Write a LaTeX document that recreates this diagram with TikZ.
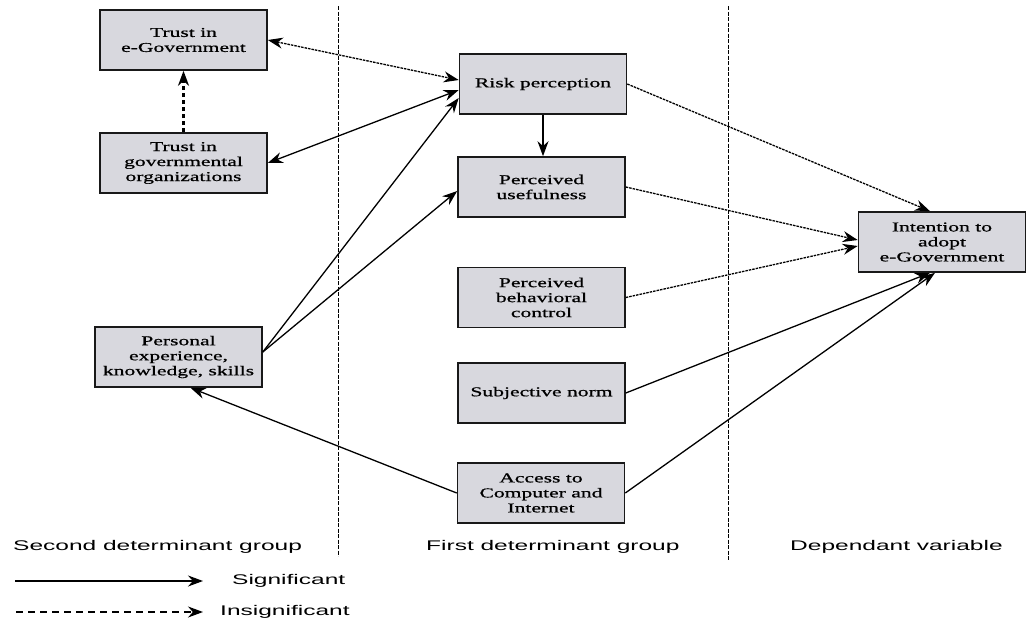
\documentclass[tikz,border=0pt]{standalone}
\usepackage{fontspec}
\usepackage{tikz}
\usetikzlibrary{arrows.meta}
\newfontfamily\boxfont[FakeStretch=1.6, FakeBold=0.8]{Liberation Serif}
\newfontfamily\grpfont[FakeStretch=1.75]{Liberation Sans}
\definecolor{boxfill}{RGB}{216,216,222}

\begin{document}
\begin{tikzpicture}[x=1pt, y=-1pt, >={Stealth[length=15pt, width=11pt]},
        var/.style={draw=black!90, line width=1.6pt, fill=boxfill, minimum width=167pt, minimum height=60pt,
            inner sep=1pt, align=center, font=\boxfont\fontsize{13.5}{15}\selectfont},
        grp/.style={anchor=west, inner sep=0pt, font=\grpfont\fontsize{14}{16}\selectfont},
        sig/.style={line width=1.3pt, ->},
        insig/.style={sig, dash pattern=on 2.5pt off 1pt},
        divider/.style={line width=0.8pt, dash pattern=on 4pt off 1.5pt}]
    \useasboundingbox (0,0) rectangle (1027,624);

    \node[var] (egov) at (183.5,40) {Trust in\\e-Government};
    \node[var] (govorg) at (183.5,163) {Trust in\\governmental\\organizations};
    \node[var] (personal) at (178.5,357) {Personal\\experience,\\knowledge, skills};
    \node[var] (risk) at (543,84) {Risk perception};
    \node[var] (useful) at (541.5,187) {Perceived\\usefulness};
    \node[var] (behav) at (541.5,297.5) {Perceived\\behavioral\\control};
    \node[var] (subj) at (541.5,393) {Subjective norm};
    \node[var] (access) at (541,493) {Access to\\Computer and\\Internet};
    \node[var] (intent) at (942,242) {Intention to\\adopt\\e-Government};

    \draw[divider] (338,6) -- (338,556);
    \draw[divider] (728,6) -- (728,560);

    \draw[insig, <->] (egov.east) -- ([yshift=4pt]risk.west);
    \draw[sig, <->] (govorg.east) -- ([yshift=-6pt]risk.west);
    \draw[sig] ([yshift=5pt]personal.east) -- ([yshift=-14pt]risk.west);
    \draw[sig] ([yshift=5pt]personal.east) -- ([yshift=-4pt]useful.west);
    \draw[sig] (risk.south) -- (useful.north -| risk.south);
    \draw[sig, line width=2.6pt, dash pattern=on 4pt off 3pt] (govorg.north) -- (egov.south);
    \draw[insig] (risk.east) -- ([xshift=-12pt]intent.north);
    \draw[insig] (useful.east) -- ([yshift=2pt]intent.west);
    \draw[insig] (behav.east) -- ([yshift=-4pt]intent.west);
    \draw[sig] (subj.east) -- ([xshift=-12pt]intent.south);
    \draw[sig] (access.east) -- ([xshift=-7pt]intent.south);
    \draw[sig] (access.west) -- ([xshift=12pt]personal.south);

    \node[grp] (second) at (13,547) {Second determinant group};
    \node[grp] (first) at (426,547) {First determinant group};
    \node[grp] (dep) at (790,547) {Dependant variable};

    \coordinate (sigA) at (15,581);
    \coordinate (sigB) at (203,581);
    \draw[sig] (sigA) -- (sigB);
    \node[grp] (siglab) at (232,581) {Significant};
    \coordinate (insA) at (16,612);
    \coordinate (insB) at (203,612);
    \draw[sig, dash pattern=on 7pt off 5pt] (insA) -- (insB);
    \node[grp] (inslab) at (220,612) {Insignificant};
\end{tikzpicture}
\end{document}
